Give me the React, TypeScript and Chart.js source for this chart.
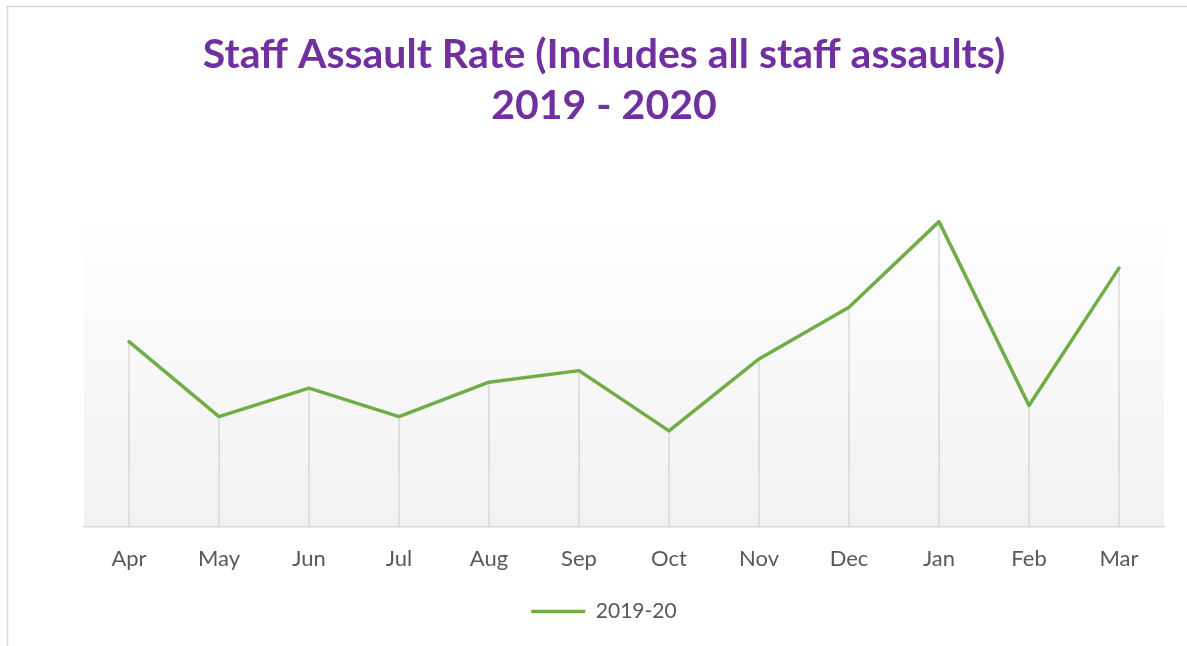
import React, { useEffect, useRef } from "react";
import { Chart, registerables } from "chart.js";

Chart.register(...registerables);

const months = ["Apr", "May", "Jun", "Jul", "Aug", "Sep", "Oct", "Nov", "Dec", "Jan", "Feb", "Mar"];
const rate201920 = [3.51, 2.09, 2.63, 2.09, 2.74, 2.96, 1.82, 3.18, 4.16, 5.78, 2.30, 4.90];
const titleLines = ["Staff Assault Rate (Includes all staff assaults)", "2019 - 2020"];
const seriesName = "2019-20";

const backdropPlugin = {
  id: "backdrop",
  beforeDraw(chart: any) {
    const { ctx, chartArea } = chart;
    ctx.save();
    const g = ctx.createLinearGradient(0, chartArea.top, 0, chartArea.bottom);
    g.addColorStop(0, "#FFFFFF");
    g.addColorStop(1, "#F1F1F1");
    ctx.fillStyle = g;
    ctx.fillRect(chartArea.left, chartArea.top, chartArea.right - chartArea.left, chartArea.bottom - chartArea.top);
    ctx.strokeStyle = "#D9D9D9";
    ctx.lineWidth = 1.5;
    ctx.beginPath();
    ctx.moveTo(7.5, chart.height);
    ctx.lineTo(7.5, 6.5);
    ctx.lineTo(chart.width, 6.5);
    ctx.stroke();
    ctx.restore();
  },
};

const dropLinesPlugin = {
  id: "dropLines",
  beforeDatasetsDraw(chart: any) {
    const { ctx, chartArea } = chart;
    const meta = chart.getDatasetMeta(0);
    ctx.save();
    ctx.strokeStyle = "#D9D9D9";
    ctx.lineWidth = 1.5;
    meta.data.forEach((pt: any) => {
      ctx.beginPath();
      ctx.moveTo(pt.x, pt.y);
      ctx.lineTo(pt.x, chartArea.bottom);
      ctx.stroke();
    });
    ctx.restore();
  },
};

export default function App() {
  const ref = useRef<HTMLCanvasElement | null>(null);
  useEffect(() => {
    if (!ref.current) return;
    const chart = new Chart(ref.current, {
      type: "line",
      data: {
        labels: months,
        datasets: [
          {
            label: seriesName,
            data: rate201920,
            borderColor: "#70AD47",
            backgroundColor: "#70AD47",
            borderWidth: 3.5,
            borderCapStyle: "round",
            borderJoinStyle: "round",
            pointRadius: 0,
            pointHoverRadius: 0,
            tension: 0,
            fill: false,
          },
        ],
      },
      options: {
        animation: false,
        responsive: true,
        maintainAspectRatio: false,
        layout: { padding: { left: 44, right: 23, top: 0, bottom: 14 } },
        scales: {
          x: {
            offset: true,
            grid: { display: false, drawTicks: false },
            border: { display: true, color: "#D9D9D9", width: 1.5 },
            ticks: {
              color: "#595959",
              padding: 19,
              font: { family: "Lato", size: 22, lineHeight: 1.2 },
              maxRotation: 0,
            },
            afterFit: (scale: any) => {
              scale.height = 46;
            },
          },
          y: {
            display: true,
            min: 0,
            max: 6,
            grid: { display: false, drawTicks: false },
            border: { display: false },
            ticks: { display: false },
            afterFit: (scale: any) => {
              scale.width = 40;
            },
          },
        },
        plugins: {
          title: {
            display: true,
            text: titleLines,
            color: "#7030A0",
            font: { family: "Lato", size: 41, weight: "bold", lineHeight: 1.25 },
            padding: { top: 29, bottom: 78.5 },
          },
          legend: {
            display: true,
            position: "bottom",
            labels: {
              color: "#595959",
              font: { family: "Lato", size: 21 },
              usePointStyle: true,
              pointStyle: "line",
              pointStyleWidth: 54,
              padding: 28,
            },
          },
          tooltip: { enabled: false },
        },
      },
      plugins: [backdropPlugin, dropLinesPlugin],
    });
    return () => chart.destroy();
  }, []);
  return (
    <div style={{ position: "fixed", left: 0, top: 0, width: 1187, height: 646, background: "#FFFFFF" }}>
      <canvas ref={ref} />
    </div>
  );
}
